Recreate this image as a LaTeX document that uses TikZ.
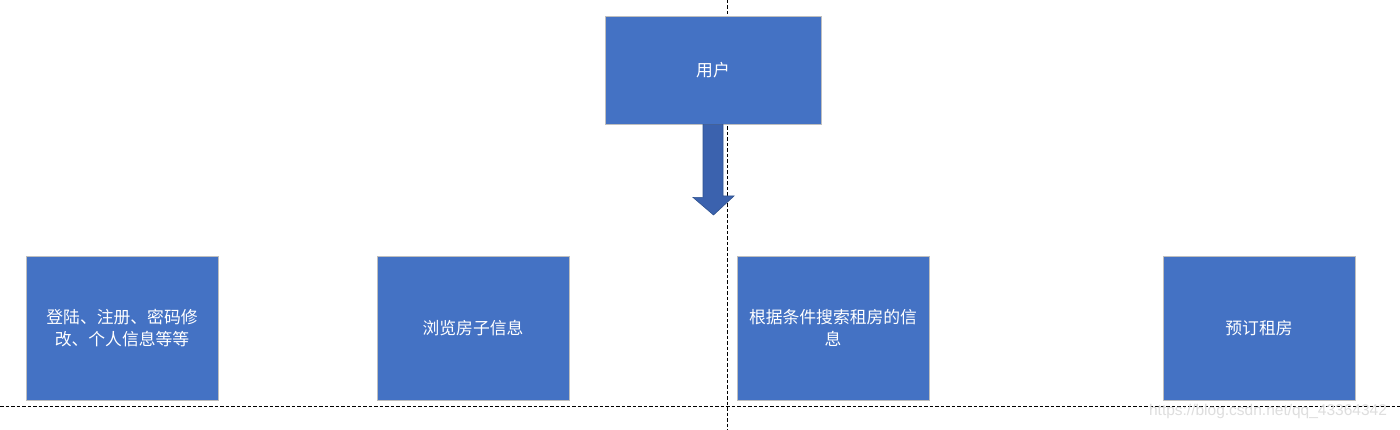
\documentclass[tikz,border=0pt]{standalone}
\usepackage{fontspec}
\setmainfont{Liberation Sans}
\newfontfamily\cjk{Noto Sans CJK SC}
\begin{document}
\begin{tikzpicture}[x=1pt,y=-1pt,
  bluebox/.style={draw=black!25, line width=0.8pt, fill={rgb,255:red,68;green,114;blue,196},
    minimum width=192pt, minimum height=144pt, inner sep=0pt,
    text=white, font=\cjk\fontsize{16.8}{21.5}\selectfont, align=center},
  guide/.style={draw=black, line width=0.8pt, dash pattern=on 3.5pt off 2pt},
  bigarrow/.style={fill={rgb,255:red,59;green,98;blue,174}, draw={rgb,255:red,47;green,82;blue,143}, line width=0.6pt}]
\useasboundingbox (0,0) rectangle (1400,430);
\fill[white] (0,0) rectangle (1400,430);
% guide lines
\coordinate (vt) at (727,0);
\coordinate (vb) at (727,430);
\coordinate (hl) at (0,406);
\coordinate (hr) at (1400,406);
\draw[guide] (vt) -- (vb);
\draw[guide] (hl) -- (hr);
% top node
\node[bluebox, minimum width=216pt, minimum height=108pt] (user) at (713,70) {用户};
% block arrow
\draw[bigarrow] ([xshift=-10pt]user.south) -- ++(0,73) -- ++(-10,0) -- (713.5,215) -- (734,196) -- ++(-11,0) -- ([xshift=10pt]user.south) -- cycle;
% bottom nodes
\node[bluebox] (b1) at (122,328) {登陆、注册、密码修\\改、个人信息等等};
\node[bluebox] (b2) at (473,328) {浏览房子信息};
\node[bluebox] (b3) at (833,328) {根据条件搜索租房的信\\息};
\node[bluebox] (b4) at (1259,328) {预订租房};
% watermark
\node[text=black!13, font=\fontsize{15.5}{18}\selectfont, inner sep=0pt] (wm) at (1268,411) {https://blog.csdn.net/qq\_43364342};
\end{tikzpicture}
\end{document}
